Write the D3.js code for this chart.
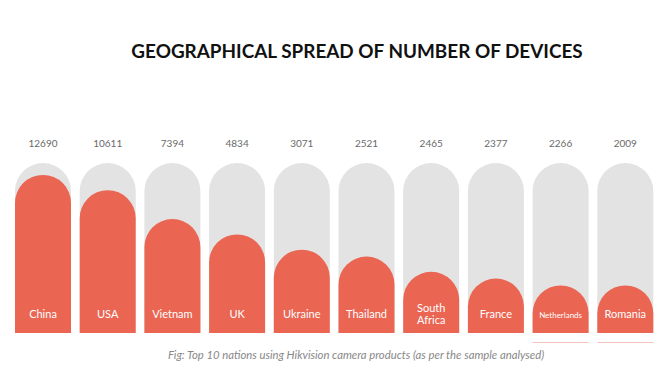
<!DOCTYPE html>
<html>
<head>
<meta charset="utf-8">
<script src="https://cdn.jsdelivr.net/npm/d3@7"></script>
<style>
  body { margin: 0; background: #fff; }
  text { font-family: "Lato", "Open Sans", sans-serif; }
</style>
</head>
<body>
<script>
// Top 10 nations by number of devices
var countries = ["China", "USA", "Vietnam", "UK", "Ukraine", "Thailand", "South Africa", "France", "Netherlands", "Romania"];
var devices = [12690, 10611, 7394, 4834, 3071, 2521, 2465, 2377, 2266, 2009];
// fill level of each gauge, % of the grey track
var levels = [93, 84, 67, 58, 49, 45, 36, 32, 28, 28];

var width = 667,
    height = 375,
    svg = d3.select("body")
    .append("svg")
    .attr("width", width)
    .attr("height", height);

var x = d3.scaleBand()
    .domain(countries)
    .range([15, 653.3])
    .paddingInner(0.1345);

var y = d3.scaleLinear()
    .domain([0, 100])
    .range([333, 163]);

var r = x.bandwidth() / 2;

function capsule(x0, top) {
  var w = x.bandwidth(), b = y(0);
  return "M" + x0 + "," + b +
    "V" + (top + r) +
    "A" + r + "," + r + " 0 0 1 " + (x0 + w) + "," + (top + r) +
    "V" + b + "Z";
}

svg.append("text")
    .attr("x", 357)
    .attr("y", 58)
    .attr("text-anchor", "middle")
    .attr("font-size", 18.9)
    .attr("font-weight", "bold")
    .attr("fill", "#111")
    .text("GEOGRAPHICAL SPREAD OF NUMBER OF DEVICES");

var bars = svg.append("g").selectAll("g")
    .data(countries)
    .enter().append("g");

bars.append("path")
    .attr("fill", "#e3e3e3")
    .attr("d", function(d) { return capsule(x(d), y(100)); });

bars.append("path")
    .attr("fill", "#ea6552")
    .attr("d", function(d, i) { return capsule(x(d), y(levels[i])); });

bars.append("text")
    .attr("x", function(d) { return x(d) + r; })
    .attr("y", 147)
    .attr("text-anchor", "middle")
    .attr("font-size", 10)
    .attr("fill", "#6a6a6a")
    .text(function(d, i) { return devices[i]; });

bars.append("text")
    .attr("x", function(d) { return x(d) + r; })
    .attr("y", 318)
    .attr("text-anchor", "middle")
    .attr("font-size", function(d) { return d == "Netherlands" ? 8 : 11; })
    .attr("fill", "#fff")
    .each(function(d) {
      var words = d == "South Africa" ? ["South", "Africa"] : [d];
      var t = d3.select(this);
      if (words.length > 1) t.attr("y", 312);
      words.forEach(function(w, k) {
        t.append("tspan")
          .attr("x", x(d) + r)
          .attr("dy", k ? 12 : 0)
          .text(w);
      });
    });

// faint underline below the last two gauges
svg.append("g").selectAll("line")
    .data(countries.slice(8))
    .enter().append("line")
    .attr("x1", function(d) { return x(d); })
    .attr("x2", function(d) { return x(d) + x.bandwidth(); })
    .attr("y1", 342.5)
    .attr("y2", 342.5)
    .attr("stroke", "#f3c3bb")
    .attr("stroke-width", 1);

svg.append("text")
    .attr("x", 356)
    .attr("y", 359)
    .attr("text-anchor", "middle")
    .attr("font-size", 11.3)
    .attr("font-style", "italic")
    .attr("fill", "#888")
    .text("Fig: Top 10 nations using Hikvision camera products (as per the sample analysed)");
</script>
</body>
</html>
